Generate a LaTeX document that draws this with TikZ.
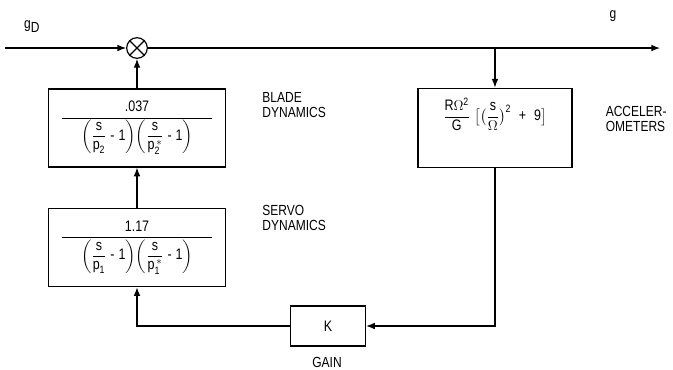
\documentclass[tikz,border=0pt]{standalone}
\usepackage{amsmath}
\usepackage{fontspec}
\setmainfont[FakeStretch=0.82]{Liberation Sans}
\usetikzlibrary{arrows.meta,positioning}
\newcommand{\tx}[1]{\text{#1}}
\tikzset{
  block/.style={draw, line width=1pt, minimum width=5.31cm, minimum height=2.34cm, inner sep=1mm},
  gainbox/.style={draw, line width=1pt, minimum width=2.25cm, minimum height=1.2cm},
  sumnode/.style={draw, circle, line width=1pt, minimum size=6.2mm, inner sep=0pt},
  arrow/.style={-{Latex[length=2.6mm,width=2mm]}, line width=1pt},
  wire/.style={line width=1pt},
  tag/.style={align=left, font=\fontsize{12.5}{12.8}\selectfont},
  formula/.style={font=\fontsize{13}{15}\selectfont},
}

\begin{document}
\begin{tikzpicture}
  \useasboundingbox (0,0) rectangle (20.19,-11.07);

  % Forward path
  \node[sumnode] (sum) at (4.11,-1.44) {};
  \coordinate (in) at (0.15,-1.44);
  \coordinate (out) at (19.8,-1.44);
  \coordinate (tap) at (14.85,-1.44);
  \node[tag, anchor=west] (gd) at (0.6,-0.8) {g\raisebox{-0.45ex}{D}};
  \node[tag] (g) at (18.39,-0.48) {g};

  \node[block, formula] (blade) at (4.11,-3.84)
    {$\dfrac{\makebox[4.5cm]{\tx{.037}}}{\left(\dfrac{\tx{s}}{\tx{p}_{\tx{2}}}\;\tx{-}\;\tx{1}\right)\!\left(\dfrac{\tx{s}}{\tx{p}_{\tx{2}}^{\,\ast}}\;\tx{-}\;\tx{1}\right)}$};
  \node[block, formula] (servo) at (4.11,-7.43)
    {$\dfrac{\makebox[4.5cm]{\tx{1.17}}}{\left(\dfrac{\tx{s}}{\tx{p}_{\tx{1}}}\;\tx{-}\;\tx{1}\right)\!\left(\dfrac{\tx{s}}{\tx{p}_{\tx{1}}^{\,\ast}}\;\tx{-}\;\tx{1}\right)}$};
  \node[tag, anchor=west] (bladetag) at (7.75,-3.14) {BLADE\\DYNAMICS};
  \node[tag, anchor=west] (servotag) at (7.75,-6.53) {SERVO\\DYNAMICS};

  % Feedback path
  \node[block, minimum width=4.62cm, minimum height=2.37cm,
        label={[formula, anchor=north, yshift=-2mm]north:$\dfrac{\tx{R}\Omega^{\tx{2}}}{\tx{G}}\;\big[\big(\dfrac{\tx{s}}{\Omega}\big)^{\tx{2}}\;\;\tx{+}\;\;\tx{9}\big]$}]
    (acc) at (14.85,-3.83) {};
  \node[tag, anchor=west] (acctag) at (18.05,-3.57) {ACCELER-\\OMETERS};
  \node[gainbox, formula] (gain) at (9.84,-9.78) {K};
  \node[tag] (gaintag) at (9.81,-10.86) {GAIN};

  % Main flow
  \draw[arrow] (in) -- (sum);
  \draw[arrow] (sum) -- (out);
  \draw[arrow] (tap) -- (acc);
  \draw[arrow] (blade) -- (sum);
  \draw[arrow] (servo) -- (blade);

  % Loop
  \draw[arrow] (acc.south) |- (gain.east);
  \draw[arrow] (gain.west) -| (servo.south);

  % Cross in junction
  \draw[wire] (sum.north west) -- (sum.south east);
  \draw[wire] (sum.north east) -- (sum.south west);
\end{tikzpicture}
\end{document}
